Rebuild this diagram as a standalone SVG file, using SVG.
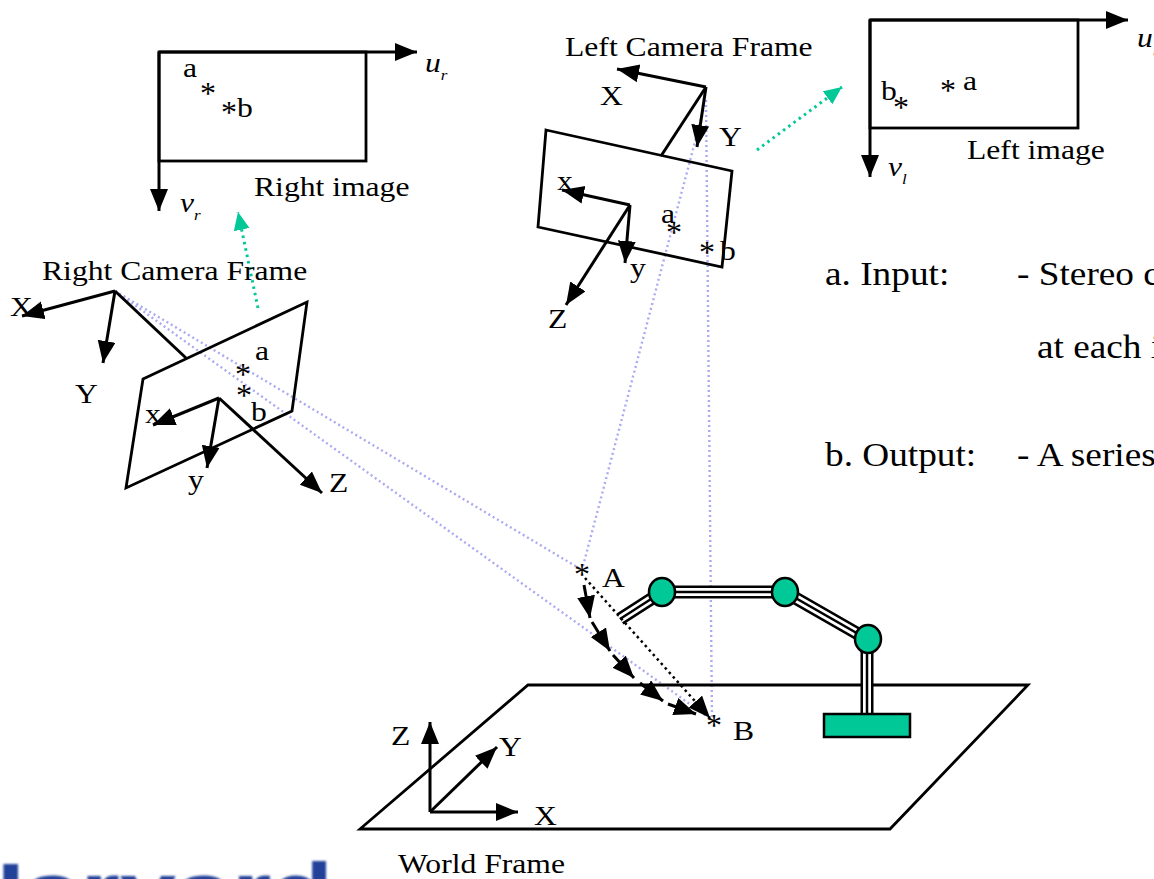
<svg xmlns="http://www.w3.org/2000/svg" width="1154" height="879" viewBox="0 0 1154 879">
  <style>
    .t { font-family: "Liberation Serif", "Times New Roman", serif; font-size: 28px; fill: #000; }
    .it { font-style: italic; }
    .big { font-size: 33px; }
    .star { font-family: "Liberation Serif", "Times New Roman", serif; font-size: 32px; fill: #000; text-anchor: middle; }
    .ln { fill: none; stroke: #000; stroke-width: 3; }
    .edge { fill: none; stroke: #000; stroke-width: 2.8; stroke-linejoin: miter; }
    .ax { fill: none; stroke: #000; stroke-width: 3; marker-end: url(#ah); }
    .ray { fill: none; stroke: #aaaaf2; stroke-width: 2.4; stroke-dasharray: 2 3; }
    .proj { fill: none; stroke: #00c896; stroke-width: 3; stroke-dasharray: 2.5 4; marker-end: url(#agr); }
    .path { fill: none; stroke: #000; stroke-width: 2.5; stroke-dasharray: 2.5 3.5; marker-end: url(#ah); }
    .linkO { fill: none; stroke: #000; stroke-width: 13; }
    .linkW { fill: none; stroke: #fff; stroke-width: 8; }
    .linkI { fill: none; stroke: #000; stroke-width: 2.5; }
    .joint { fill: #00c896; stroke: #000; stroke-width: 2.5; }
  </style>
  <defs>
    <marker id="ah" markerUnits="userSpaceOnUse" markerWidth="24" markerHeight="20" refX="22" refY="9" orient="auto">
      <path d="M0,0 L22,9 L0,18 z" fill="#000"/>
    </marker>
    <marker id="agr" markerUnits="userSpaceOnUse" markerWidth="20" markerHeight="18" refX="18" refY="8" orient="auto">
      <path d="M0,0 L18,8 L0,16 z" fill="#00c896"/>
    </marker>
    <filter id="soft" x="-5%" y="-5%" width="110%" height="110%">
      <feGaussianBlur stdDeviation="0.9"/>
    </filter>
  </defs>

  <rect width="1154" height="879" fill="#fff"/>

  <!-- projection rays and image-plane links -->
  <g id="connectors">
    <line class="ray" x1="115" y1="291" x2="582" y2="570"/>
    <line class="ray" x1="115" y1="291" x2="712" y2="720"/>
    <line class="ray" x1="706" y1="100" x2="582" y2="570"/>
    <line class="ray" x1="706" y1="100" x2="712" y2="720"/>
    <line class="proj" x1="258" y1="308" x2="238" y2="212"/>
    <line class="proj" x1="757" y1="150" x2="842" y2="87"/>
  </g>

  <!-- right image plane -->
  <g id="right-image">
    <rect class="edge" x="159" y="52" width="207" height="109"/>
    <line class="ax" x1="159" y1="52" x2="417" y2="52"/>
    <line class="ax" x1="159" y1="52" x2="159" y2="211"/>
    <text class="t" transform="translate(183,77) scale(1.13,1)">a</text>
    <text class="star" x="208" y="104">*</text>
    <text class="star" x="229" y="123">*</text>
    <text class="t" transform="translate(237,117) scale(1.13,1)">b</text>
    <text class="t it" transform="translate(425,72) scale(1.13,1)">u<tspan font-size="15" dy="8">r</tspan></text>
    <text class="t it" transform="translate(180,212) scale(1.13,1)">v<tspan font-size="15" dy="8">r</tspan></text>
    <text class="t" transform="translate(254,196) scale(1.13,1)">Right image</text>
  </g>

  <!-- left image plane -->
  <g id="left-image">
    <rect class="edge" x="870" y="20" width="208" height="108"/>
    <line class="ax" x1="870" y1="20" x2="1128" y2="20"/>
    <line class="ax" x1="870" y1="20" x2="870" y2="177"/>
    <text class="t" transform="translate(881,100) scale(1.13,1)">b</text>
    <text class="star" x="901" y="118">*</text>
    <text class="star" x="948" y="101">*</text>
    <text class="t" transform="translate(963,90) scale(1.13,1)">a</text>
    <text class="t it" transform="translate(1137,47) scale(1.13,1)">u<tspan font-size="15" dy="8">l</tspan></text>
    <text class="t it" transform="translate(888,176) scale(1.13,1)">v<tspan font-size="15" dy="8">l</tspan></text>
    <text class="t" transform="translate(967,159) scale(1.13,1)">Left image</text>
  </g>

  <!-- right camera frame -->
  <g id="right-camera">
    <text class="t" transform="translate(42,280) scale(1.13,1)">Right Camera Frame</text>
    <line class="ax" x1="115" y1="291" x2="22" y2="316"/>
    <line class="ax" x1="115" y1="291" x2="103" y2="363"/>
    <line class="ln" x1="115" y1="291" x2="186" y2="358"/>
    <text class="t" transform="translate(10,316) scale(1.13,1)">X</text>
    <text class="t" transform="translate(75,403) scale(1.13,1)">Y</text>
    <polygon class="edge" points="143,379 307,302 292,411 126,488"/>
    <line class="ax" x1="219" y1="398" x2="153" y2="425"/>
    <line class="ax" x1="219" y1="398" x2="207" y2="468"/>
    <line class="ax" x1="219" y1="398" x2="322" y2="493"/>
    <text class="t" transform="translate(145,423) scale(1.13,1)">x</text>
    <text class="t" transform="translate(188,489) scale(1.13,1)">y</text>
    <text class="t" transform="translate(329,492) scale(1.13,1)">Z</text>
    <text class="t" transform="translate(255,360) scale(1.13,1)">a</text>
    <text class="star" x="243" y="385">*</text>
    <text class="star" x="244" y="406">*</text>
    <text class="t" transform="translate(251,421) scale(1.13,1)">b</text>
  </g>

  <!-- left camera frame -->
  <g id="left-camera">
    <text class="t" transform="translate(565,56) scale(1.13,1)">Left Camera Frame</text>
    <line class="ax" x1="706" y1="87" x2="617" y2="69"/>
    <line class="ax" x1="706" y1="87" x2="697" y2="147"/>
    <line class="ln" x1="706" y1="87" x2="661" y2="156"/>
    <text class="t" transform="translate(600,105) scale(1.13,1)">X</text>
    <text class="t" transform="translate(719,146) scale(1.13,1)">Y</text>
    <polygon class="edge" points="546,130 732,171 722,267 538,227"/>
    <line class="ax" x1="630" y1="205" x2="562" y2="190"/>
    <line class="ax" x1="630" y1="205" x2="625" y2="263"/>
    <line class="ax" x1="630" y1="205" x2="566" y2="305"/>
    <text class="t" transform="translate(557,190) scale(1.13,1)">x</text>
    <text class="t" transform="translate(630,277) scale(1.13,1)">y</text>
    <text class="t" transform="translate(548,328) scale(1.13,1)">Z</text>
    <text class="t" transform="translate(661,223) scale(1.13,1)">a</text>
    <text class="star" x="674" y="243">*</text>
    <text class="star" x="707" y="263">*</text>
    <text class="t" transform="translate(720,260) scale(1.13,1)">b</text>
  </g>

  <!-- world frame and ground plane -->
  <g id="world-frame">
    <polygon class="edge" points="528,685 1028,685 890,829 360,829"/>
    <line class="ax" x1="430" y1="812" x2="430" y2="722"/>
    <line class="ax" x1="430" y1="812" x2="497" y2="747"/>
    <line class="ax" x1="430" y1="812" x2="518" y2="812"/>
    <text class="t" transform="translate(391,745) scale(1.13,1)">Z</text>
    <text class="t" transform="translate(499,756) scale(1.13,1)">Y</text>
    <text class="t" transform="translate(534,825) scale(1.13,1)">X</text>
    <text class="t" transform="translate(398,873) scale(1.13,1)">World Frame</text>
  </g>

  <!-- robot arm -->
  <g id="robot">
    <polyline class="linkO" points="620,619 662,592 785,592 867,639 867,715"/>
    <polyline class="linkW" points="620,619 662,592 785,592 867,639 867,716"/>
    <polyline class="linkI" points="620,619 662,592 785,592 867,639 867,715"/>
    <rect class="joint" x="824" y="714" width="86" height="23"/>
    <ellipse class="joint" cx="662" cy="592" rx="13" ry="14"/>
    <ellipse class="joint" cx="785" cy="592" rx="13" ry="14"/>
    <ellipse class="joint" cx="868" cy="639" rx="13" ry="14"/>
  </g>

  <!-- planned trajectory from A to B -->
  <g id="trajectory">
    <line class="path" x1="585" y1="578" x2="710" y2="718"/>
    <line class="ax" x1="584" y1="585" x2="590" y2="618"/>
    <line class="ax" x1="592" y1="622" x2="610" y2="651"/>
    <line class="ax" x1="613" y1="655" x2="634" y2="678"/>
    <line class="ax" x1="640" y1="683" x2="663" y2="701"/>
    <line class="ax" x1="668" y1="704" x2="696" y2="714"/>
    <text class="star" x="582" y="585">*</text>
    <text class="t" transform="translate(602,587) scale(1.13,1)">A</text>
    <text class="star" x="714" y="736">*</text>
    <text class="t" transform="translate(733,740) scale(1.13,1)">B</text>
  </g>

  <!-- task description -->
  <g id="info-text">
    <text class="t big" transform="translate(825,285) scale(1.13,1)">a. Input:</text>
    <text class="t big" transform="translate(1017,285) scale(1.13,1)">- Stereo c</text>
    <text class="t big" transform="translate(1037,358) scale(1.13,1)">at each i</text>
    <text class="t big" transform="translate(825,466) scale(1.13,1)">b. Output:</text>
    <text class="t big" transform="translate(1017,466) scale(1.13,1)">- A series</text>
  </g>

  <!-- wordmark at the lower-left edge -->
  <g id="logo" filter="url(#soft)">
    <text transform="translate(-48,914) scale(1.4,1)" font-family="'Liberation Sans', Arial, sans-serif" font-weight="bold" font-size="72" fill="#22429a">Harvard</text>
  </g>
</svg>
